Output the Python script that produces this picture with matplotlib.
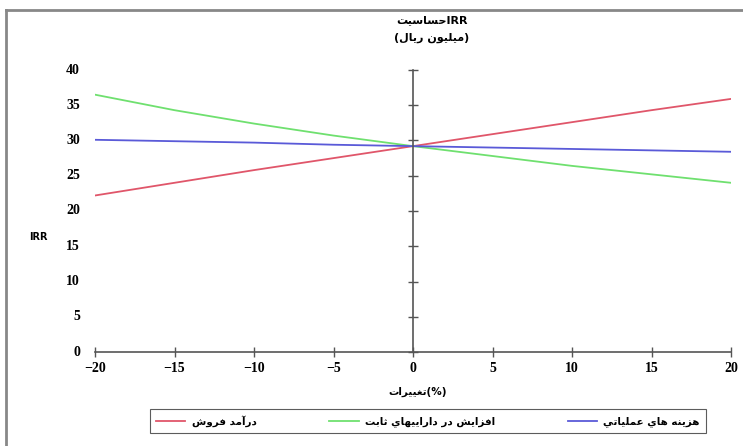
import matplotlib
matplotlib.use("Agg")
import matplotlib.pyplot as plt
import matplotlib.transforms as mtransforms

# ── data ──────────────────────────────────────────────────────────────────────
change_pct   = [-20, -15, -10, -5, 0, 5, 10, 15, 20]
irr_sales    = [22.2, 24.0, 25.8, 27.5, 29.2, 30.9, 32.6, 34.3, 35.9]
irr_assets   = [36.5, 34.3, 32.4, 30.7, 29.2, 27.8, 26.4, 25.2, 24.0]
irr_opcost   = [30.1, 29.9, 29.7, 29.4, 29.2, 29.0, 28.8, 28.6, 28.4]
y_ticks      = [0, 5, 10, 15, 20, 25, 30, 35, 40]
x_ticks      = [-20, -15, -10, -5, 0, 5, 10, 15, 20]

# ── minimal arabic shaping (matplotlib has no bidi / joining) ────────────────
# letter: (isolated, final, initial, medial) ; None -> right-joining only
FORMS = {
    "ا": (0xFE8D, 0xFE8E, None, None), "آ": (0xFE81, 0xFE82, None, None),
    "ب": (0xFE8F, 0xFE90, 0xFE91, 0xFE92), "ت": (0xFE95, 0xFE96, 0xFE97, 0xFE98),
    "ث": (0xFE99, 0xFE9A, 0xFE9B, 0xFE9C), "ح": (0xFEA1, 0xFEA2, 0xFEA3, 0xFEA4),
    "د": (0xFEA9, 0xFEAA, None, None), "ر": (0xFEAD, 0xFEAE, None, None),
    "ز": (0xFEAF, 0xFEB0, None, None), "س": (0xFEB1, 0xFEB2, 0xFEB3, 0xFEB4),
    "ش": (0xFEB5, 0xFEB6, 0xFEB7, 0xFEB8), "ع": (0xFEC9, 0xFECA, 0xFECB, 0xFECC),
    "غ": (0xFECD, 0xFECE, 0xFECF, 0xFED0), "ف": (0xFED1, 0xFED2, 0xFED3, 0xFED4),
    "ل": (0xFEDD, 0xFEDE, 0xFEDF, 0xFEE0), "م": (0xFEE1, 0xFEE2, 0xFEE3, 0xFEE4),
    "ن": (0xFEE5, 0xFEE6, 0xFEE7, 0xFEE8), "ه": (0xFEE9, 0xFEEA, 0xFEEB, 0xFEEC),
    "و": (0xFEED, 0xFEEE, None, None), "ي": (0xFEF1, 0xFEF2, 0xFEF3, 0xFEF4),
}

def joins_next(ch):
    return ch in FORMS and FORMS[ch][2] is not None

def rtl(text):
    out = []
    for i, ch in enumerate(text):
        if ch not in FORMS:
            out.append(ch); continue
        prev = text[i-1] if i > 0 else ""
        nxt  = text[i+1] if i + 1 < len(text) else ""
        jp = joins_next(prev)
        jn = joins_next(ch) and nxt in FORMS
        iso, fin, ini, med = FORMS[ch]
        if jp and jn:   code = med
        elif jp:        code = fin
        elif jn:        code = ini
        else:           code = iso
        out.append(chr(code))
    return "".join(reversed(out))

title_1  = rtl("حساسيت") + "IRR"
title_2  = "(" + rtl("ميليون ريال") + ")"
x_label  = rtl("تغييرات") + "(%)"
labels   = [rtl("درآمد فروش"), rtl("افزايش در داراييهاي ثابت"), rtl("هزينه هاي عملياتي")]
colors   = ["#e0566a", "#6fe06f", "#5a5ad8"]

# ── figure ────────────────────────────────────────────────────────────────────
fig = plt.figure(figsize=(7.43, 4.46), dpi=100, facecolor="white")
ax = fig.add_axes([95/743, 1 - 352/446, 636/743, 282/446])
ax.set_xlim(-20, 20); ax.set_ylim(0, 40)

for ys, c, lab in zip([irr_sales, irr_assets, irr_opcost], colors, labels):
    ax.plot(change_pct, ys, color=c, lw=1.3, label=lab)

# axes crossing at the origin
for s in ["top", "right"]:
    ax.spines[s].set_visible(False)
ax.spines["left"].set_position(("data", 0))
for s in ["left", "bottom"]:
    ax.spines[s].set_color("#555555")
    ax.spines[s].set_linewidth(1.2)
ax.set_xticks(x_ticks); ax.set_yticks(y_ticks)
ax.tick_params(axis="both", direction="inout", length=7, width=1, color="#555555")
ax.tick_params(axis="y", labelleft=False)
ax.set_xticklabels([str(v).replace("-", "\u2212") for v in x_ticks],
                   family="Liberation Serif", fontweight="bold", fontsize=10)

# y tick labels sit at the far left, away from the centre axis
trans = mtransforms.blended_transform_factory(fig.transFigure, ax.transData)
for v in y_ticks:
    ax.text(80/743, v, str(v), transform=trans, ha="right", va="center",
            family="Liberation Serif", fontweight="bold", fontsize=10)

fig.text(38/743, 1 - 237/446, "IRR", ha="center", va="center",
         fontsize=7, fontweight="bold", family="DejaVu Sans")
fig.text(432/743, 1 - 20/446, title_1, ha="center", va="center",
         fontsize=8, fontweight="bold", family="DejaVu Sans")
fig.text(432/743, 1 - 38/446, title_2, ha="center", va="center",
         fontsize=8, fontweight="bold", family="DejaVu Sans")
fig.text(418/743, 1 - 392/446, x_label, ha="center", va="center",
         fontsize=7.5, fontweight="bold", family="DejaVu Sans")

leg = fig.legend(loc="center", bbox_to_anchor=(428/743, 1 - 421/446), ncol=3,
                 frameon=True, fancybox=False, edgecolor="#333333",
                 prop={"family": "DejaVu Sans", "weight": "bold", "size": 7.5},
                 columnspacing=7.0, handlelength=2.8, borderpad=0.6,
                 handletextpad=0.6)
leg.get_frame().set_linewidth(0.8)

# outer frame (left and top edges visible)
fig.add_artist(plt.Line2D([6/743, 6/743], [0, 1 - 10/446], color="#888888",
                          lw=2, transform=fig.transFigure))
fig.add_artist(plt.Line2D([6/743, 1], [1 - 10/446, 1 - 10/446], color="#888888",
                          lw=2, transform=fig.transFigure))

fig.savefig("out.png", dpi=100, facecolor="white")
